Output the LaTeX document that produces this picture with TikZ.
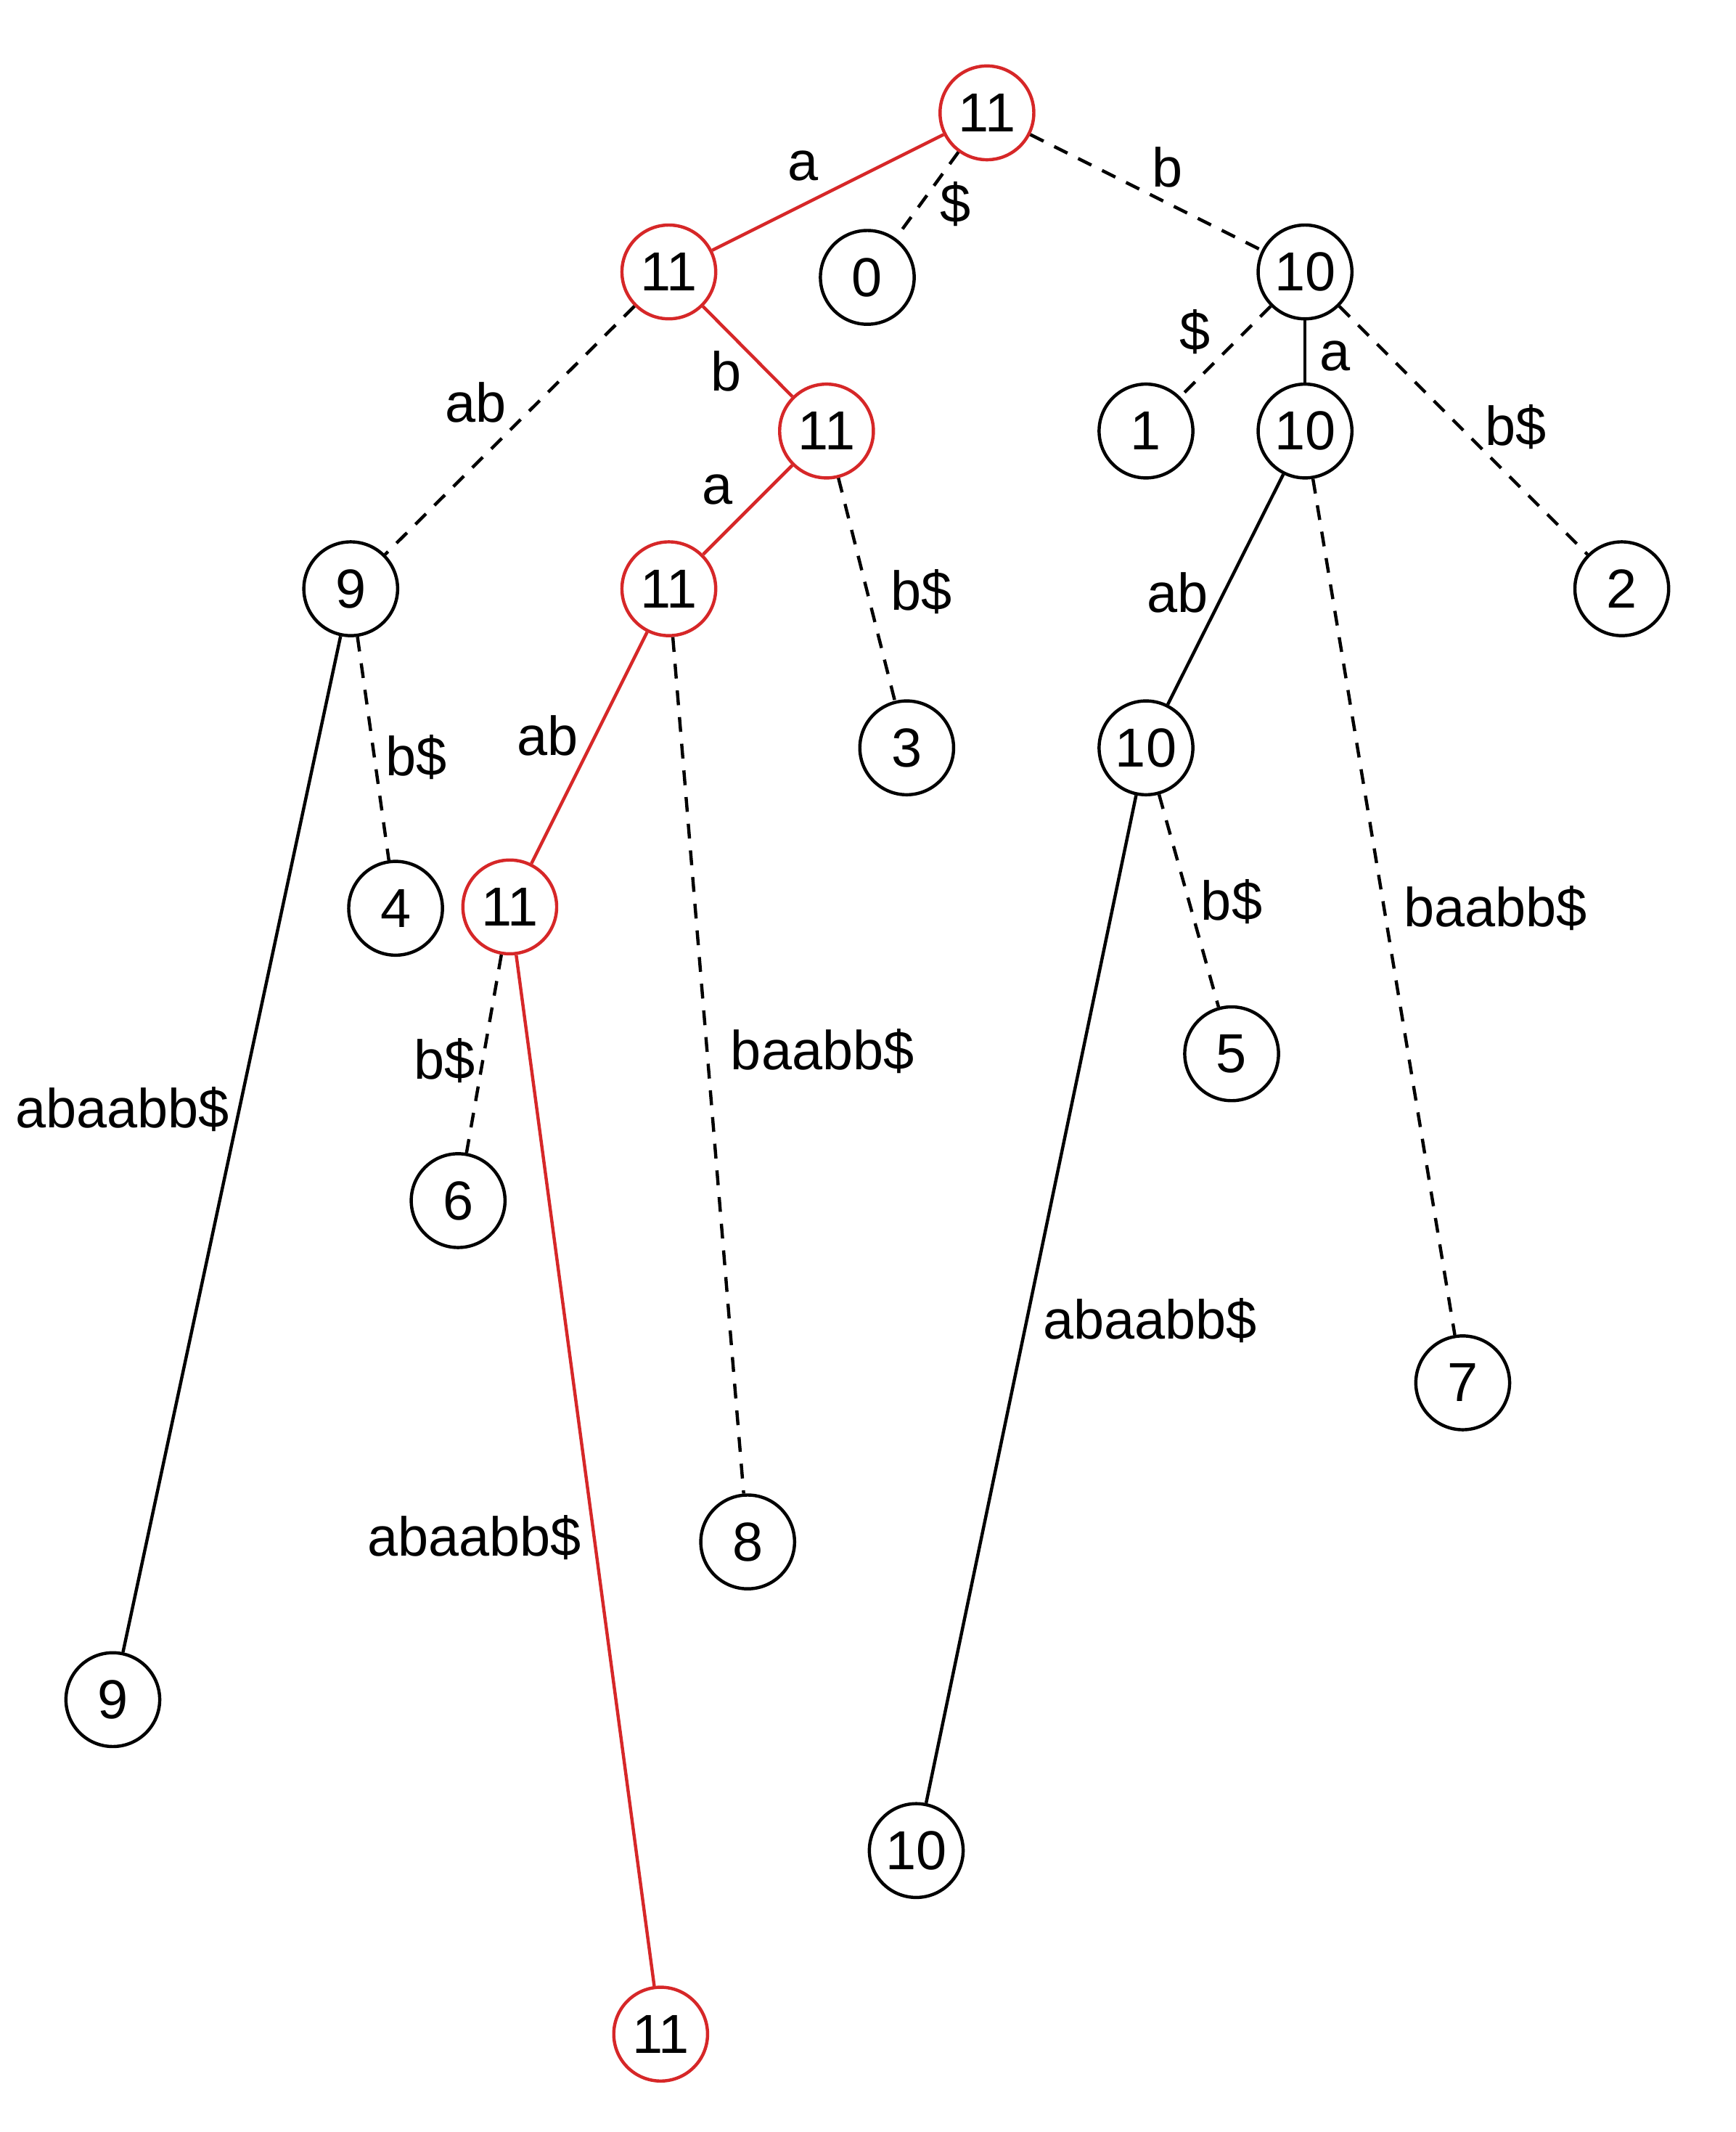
\documentclass[tikz,border=0pt]{standalone}
\usepackage{fontspec}
\setmainfont{Liberation Sans}
\usetikzlibrary{positioning}
\definecolor{pathred}{RGB}{214,39,40}

\begin{document}
\begin{tikzpicture} [
       x=0.02cm, y=-0.02cm,
       vtx/.style={circle, draw=black, line width=1.35pt, minimum size=1.38cm,
               inner sep=0pt, font=\fontsize{23}{27}\selectfont},
       hot/.style={vtx, draw=pathred},
       lbl/.style={font=\fontsize{23}{27}\selectfont, inner sep=0pt},
       tree/.style={draw, line width=1.35pt},
       hotline/.style={tree, draw=pathred},
       skip/.style={tree, dash pattern=on 6.2pt off 5pt},
       ]
       \useasboundingbox (0,0) rectangle (1277,1568);
       % internal nodes and leaves
       \node[hot] (r) at (726,83) {11};
       \node[hot] (ra) at (492,200) {11};
       \node[vtx] (l0) at (638,204) {0};
       \node[vtx] (rb) at (960,200) {10};
       \node[hot] (rab) at (608,317) {11};
       \node[vtx] (l1) at (843,317) {1};
       \node[vtx] (rba) at (960,317) {10};
       \node[vtx] (raab) at (258,433) {9};
       \node[hot] (raba) at (492,433) {11};
       \node[vtx] (l2) at (1193,433) {2};
       \node[vtx] (l3) at (667,550) {3};
       \node[vtx] (rbaab) at (843,550) {10};
       \node[vtx] (l4) at (291,668) {4};
       \node[hot] (rabaab) at (375,667) {11};
       \node[vtx] (l5) at (906,775) {5};
       \node[vtx] (l6) at (337,883) {6};
       \node[vtx] (l7) at (1076,1017) {7};
       \node[vtx] (l8) at (550,1134) {8};
       \node[vtx] (l9) at (83,1250) {9};
       \node[vtx] (l10) at (674,1361) {10};
       \node[hot] (l11) at (486,1496) {11};
       % edges
       \draw[hotline] (r) -- (ra) node[lbl] at (591,122) {a};
       \draw[skip] (r) -- (l0) node[lbl] at (703,150) {\$};
       \draw[skip] (r) -- (rb) node[lbl] at (859,123) {b};
       \draw[skip] (ra) -- (raab) node[lbl] at (350,296) {ab};
       \draw[hotline] (ra) -- (rab) node[lbl] at (534,273) {b};
       \draw[skip] (rb) -- (l1) node[lbl] at (879,244) {\$};
       \draw[tree] (rb) -- (rba) node[lbl] at (982,262) {a};
       \draw[skip] (rb) -- (l2) node[lbl] at (1115,314) {b\$};
       \draw[hotline] (rab) -- (raba) node[lbl] at (528,360) {a};
       \draw[skip] (rab) -- (l3) node[lbl] at (678,435) {b\$};
       \draw[tree] (rba) -- (rbaab) node[lbl] at (866,436) {ab};
       \draw[skip] (rba) -- (l7) node[lbl] at (1100,668) {baabb\$};
       \draw[tree] (raab) -- (l9) node[lbl] at (90,816) {abaabb\$};
       \draw[skip] (raab) -- (l4) node[lbl] at (306,557) {b\$};
       \draw[hotline] (raba) -- (rabaab) node[lbl] at (403,541) {ab};
       \draw[skip] (raba) -- (l8) node[lbl] at (605,773) {baabb\$};
       \draw[skip] (rbaab) -- (l5) node[lbl] at (906,663) {b\$};
       \draw[tree] (rbaab) -- (l10) node[lbl] at (846,971) {abaabb\$};
       \draw[skip] (rabaab) -- (l6) node[lbl] at (327,780) {b\$};
       \draw[hotline] (rabaab) -- (l11) node[lbl] at (349,1131) {abaabb\$};
\end{tikzpicture}
\end{document}
